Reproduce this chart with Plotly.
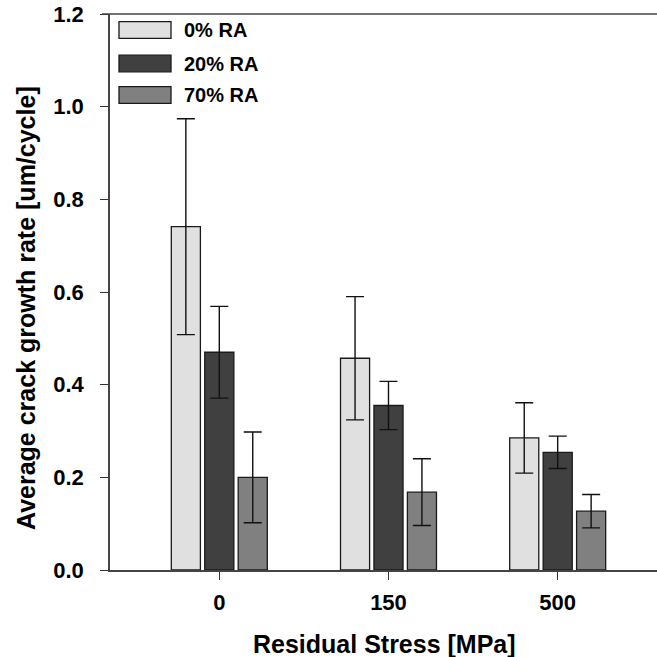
import plotly.graph_objects as go

# ---- data ----
categories = ["0", "150", "500"]
series_names = ["0% RA", "20% RA", "70% RA"]
values_0ra = [0.741, 0.457, 0.285]
values_20ra = [0.470, 0.355, 0.254]
values_70ra = [0.200, 0.168, 0.127]
err_0ra = [0.233, 0.133, 0.076]
err_20ra = [0.099, 0.052, 0.035]
err_70ra = [0.098, 0.072, 0.036]
y_ticks = [0.0, 0.2, 0.4, 0.6, 0.8, 1.0, 1.2]

series_values = [values_0ra, values_20ra, values_70ra]
series_errors = [err_0ra, err_20ra, err_70ra]
colors = ["#e0e0e0", "#404040", "#808080"]

FONT = "Liberation Sans, Arial, sans-serif"
W, H = 657, 657
# plot area in window pixels: x 110..657, y 14..570
PL, PR, PT, PB = 110, 657, 14, 570
ML, MT = PL, PT
MR = W - PR
MB = H - PB
PW, PH = PR - PL, PB - PT


def px(xw):
    return (xw - PL) / PW


def py(yw):
    return (PB - yw) / PH


x_pos = list(range(len(categories)))

fig = go.Figure()
for name, vals, errs, col in zip(series_names, series_values, series_errors, colors):
    fig.add_trace(go.Bar(
        x=x_pos, y=vals, name=name,
        marker=dict(color=col, line=dict(color="#1a1a1a", width=1.3)),
        error_y=dict(type="data", array=errs, visible=True,
                     color="#111111", thickness=1.4, width=9),
        showlegend=False,
    ))

# top frame line
shapes = [dict(type="line", xref="paper", yref="paper", x0=px(102), x1=1, y0=1, y1=1,
               line=dict(color="#444444", width=1.5), layer="above")]
annotations = []

# manual legend (large swatches like the original)
row_centers = [30, 63.5, 95]
for name, col, cy in zip(series_names, colors, row_centers):
    shapes.append(dict(type="rect", xref="paper", yref="paper",
                       x0=px(119), x1=px(171), y0=py(cy + 8.3), y1=py(cy - 8.3),
                       fillcolor=col, line=dict(color="#1a1a1a", width=1.3)))
    annotations.append(dict(xref="paper", yref="paper",
                            x=px(182), y=py(cy),
                            xanchor="left", yanchor="middle", showarrow=False,
                            text=f"<b>{name}</b>",
                            font=dict(family=FONT, size=20, color="black")))

# axis titles as annotations for precise placement
annotations.append(dict(xref="paper", yref="paper", x=px(384), y=py(644),
                        xanchor="center", yanchor="middle", showarrow=False,
                        text="<b>Residual Stress [MPa]</b>",
                        font=dict(family=FONT, size=25, color="black")))
annotations.append(dict(xref="paper", yref="paper", x=px(26), y=py(308),
                        xanchor="center", yanchor="middle", showarrow=False, textangle=-90,
                        text="<b>Average crack growth rate [um/cycle]</b>",
                        font=dict(family=FONT, size=25, color="black")))

fig.update_layout(
    width=W, height=H,
    margin=dict(l=ML, r=MR, t=MT, b=MB, pad=0, autoexpand=False),
    paper_bgcolor="white", plot_bgcolor="white",
    barmode="group", bargap=0.407, bargroupgap=0.13,
    shapes=shapes, annotations=annotations,
    font=dict(family=FONT, color="black"),
    xaxis=dict(
        range=[-0.646, 2.587], automargin=False,
        tickvals=x_pos, ticktext=[f"<b>{c}</b>" for c in categories],
        ticks="outside", ticklen=8, tickwidth=1.4, tickcolor="#333333",
        showline=True, linecolor="#444444", linewidth=1.5,
        showgrid=False, zeroline=False,
        tickfont=dict(family=FONT, size=22, color="black"),
        ticklabelstandoff=4,
    ),
    yaxis=dict(
        range=[0, 1.2], automargin=False,
        tickvals=y_ticks, ticktext=[f"<b>{v:.1f}</b>" for v in y_ticks],
        ticks="outside", ticklen=8, tickwidth=1.4, tickcolor="#333333",
        showline=True, linecolor="#444444", linewidth=1.5,
        showgrid=False, zeroline=False,
        tickfont=dict(family=FONT, size=22, color="black"),
        ticklabelstandoff=12, ticklabeloverflow="allow",
    ),
)

fig.write_html(
    "out.html",
    config={"displayModeBar": False},
    post_script="document.body.style.margin='0';document.body.style.overflow='hidden';",
)
